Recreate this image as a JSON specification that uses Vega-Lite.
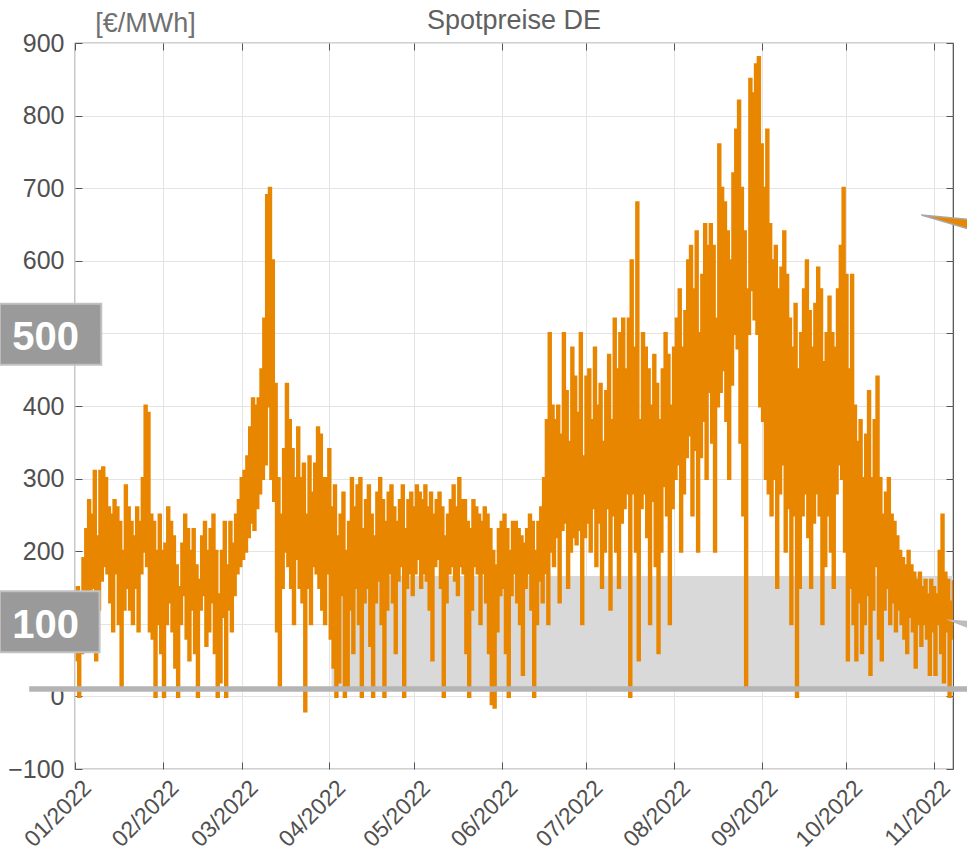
{
"$schema": "https://vega.github.io/schema/vega-lite/v6.json",
"width": 878, "height": 726,
"autosize": {"type": "none"},
"padding": {"left": 75, "top": 43, "right": 14, "bottom": 93},
"background": "white",
"config": {"font": "Liberation Sans", "view": {"stroke": "#4a4a4a", "strokeWidth": 1.2}},
"title": {"text": "Spotpreise DE", "fontSize": 27, "fontWeight": "normal", "color": "#606060", "anchor": "middle", "offset": 9, "dy": 35, "font": "Liberation Sans"},
"datasets": {
"band": [{"x1": 90.8, "x2": 310.7, "y1": 10, "y2": 165.7}],
"hl": [{"x1": -16.2, "x2": 316, "y": 10.2}],
"arrO": [{"x": 299.5, "y": 663, "y2": 663}, {"x": 316, "y": 657, "y2": 644}],
"arrG": [{"x": 308.2, "y": 106, "y2": 106}, {"x": 316, "y": 104, "y2": 94}],
"boxes": [{"x1": -26.6, "x2": 9.3, "y1": 456.8, "y2": 540.8, "t": "500", "tx": -10.4, "ty": 477.6}, {"x1": -26.6, "x2": 8.7, "y1": 60.8, "y2": 144.8, "t": "100", "tx": -10.4, "ty": 80.7}],
"p": [
{"d":0.25,"v":50},{"d":0.75,"v":150},{"d":1.25,"v":0},{"d":1.75,"v":130},{"d":2.25,"v":60},{"d":2.75,"v":190},{"d":3.25,"v":100},{"d":3.75,"v":230},{"d":4.25,"v":130},{"d":4.75,"v":270},{"d":5.25,"v":110},{"d":5.75,"v":250},{"d":6.25,"v":150},{"d":6.75,"v":310},{"d":7.25,"v":50},{"d":7.75,"v":220},{"d":8.25,"v":120},{"d":8.75,"v":310},{"d":9.25,"v":160},{"d":9.75,"v":315},{"d":10.25,"v":180},{"d":10.75,"v":300},{"d":11.25,"v":170},{"d":11.75,"v":260},{"d":12.25,"v":130},{"d":12.75,"v":250},{"d":13.25,"v":90},{"d":13.75,"v":270},{"d":14.25,"v":170},{"d":14.75,"v":260},{"d":15.25,"v":100},{"d":15.75,"v":240},{"d":16.25,"v":10},{"d":16.75,"v":200},{"d":17.25,"v":120},{"d":17.75,"v":290},{"d":18.25,"v":150},{"d":18.75,"v":260},{"d":19.25,"v":120},{"d":19.75,"v":240},{"d":20.25,"v":100},{"d":20.75,"v":220},{"d":21.25,"v":150},{"d":21.75,"v":260},{"d":22.25,"v":90},{"d":22.75,"v":240},{"d":23.25,"v":170},{"d":23.75,"v":300},{"d":24.25,"v":200},{"d":24.75,"v":400},{"d":25.25,"v":180},{"d":25.75,"v":390},{"d":26.25,"v":90},{"d":26.75,"v":250},{"d":27.25,"v":80},{"d":27.75,"v":240},{"d":28.25,"v":0},{"d":28.75,"v":200},{"d":29.25,"v":100},{"d":29.75,"v":250},{"d":30.25,"v":60},{"d":30.75,"v":200},
{"d":31.25,"v":0},{"d":31.75,"v":210},{"d":32.25,"v":100},{"d":32.75,"v":260},{"d":33.25,"v":130},{"d":33.75,"v":240},{"d":34.25,"v":90},{"d":34.75,"v":220},{"d":35.25,"v":40},{"d":35.75,"v":180},{"d":36.25,"v":0},{"d":36.75,"v":150},{"d":37.25,"v":100},{"d":37.75,"v":210},{"d":38.25,"v":140},{"d":38.75,"v":250},{"d":39.25,"v":80},{"d":39.75,"v":230},{"d":40.25,"v":50},{"d":40.75,"v":200},{"d":41.25,"v":120},{"d":41.75,"v":230},{"d":42.25,"v":60},{"d":42.75,"v":180},{"d":43.25,"v":0},{"d":43.75,"v":160},{"d":44.25,"v":120},{"d":44.75,"v":220},{"d":45.25,"v":140},{"d":45.75,"v":240},{"d":46.25,"v":70},{"d":46.75,"v":200},{"d":47.25,"v":90},{"d":47.75,"v":230},{"d":48.25,"v":130},{"d":48.75,"v":250},{"d":49.25,"v":60},{"d":49.75,"v":200},{"d":50.25,"v":0},{"d":50.75,"v":140},{"d":51.25,"v":20},{"d":51.75,"v":200},{"d":52.25,"v":110},{"d":52.75,"v":240},{"d":53.25,"v":0},{"d":53.75,"v":180},{"d":54.25,"v":120},{"d":54.75,"v":240},{"d":55.25,"v":90},{"d":55.75,"v":210},{"d":56.25,"v":140},{"d":56.75,"v":250},{"d":57.25,"v":170},{"d":57.75,"v":270},{"d":58.25,"v":180},{"d":58.75,"v":300},
{"d":59.25,"v":190},{"d":59.75,"v":310},{"d":60.25,"v":200},{"d":60.75,"v":330},{"d":61.25,"v":220},{"d":61.75,"v":370},{"d":62.25,"v":240},{"d":62.75,"v":410},{"d":63.25,"v":230},{"d":63.75,"v":400},{"d":64.25,"v":260},{"d":64.75,"v":410},{"d":65.25,"v":280},{"d":65.75,"v":450},{"d":66.25,"v":300},{"d":66.75,"v":520},{"d":67.25,"v":320},{"d":67.75,"v":690},{"d":68.25,"v":400},{"d":68.75,"v":700},{"d":69.25,"v":300},{"d":69.75,"v":600},{"d":70.25,"v":270},{"d":70.75,"v":430},{"d":71.25,"v":90},{"d":71.75,"v":300},{"d":72.25,"v":10},{"d":72.75,"v":250},{"d":73.25,"v":150},{"d":73.75,"v":340},{"d":74.25,"v":200},{"d":74.75,"v":430},{"d":75.25,"v":180},{"d":75.75,"v":380},{"d":76.25,"v":150},{"d":76.75,"v":340},{"d":77.25,"v":100},{"d":77.75,"v":300},{"d":78.25,"v":190},{"d":78.75,"v":370},{"d":79.25,"v":150},{"d":79.75,"v":300},{"d":80.25,"v":130},{"d":80.75,"v":320},{"d":81.25,"v":-20},{"d":81.75,"v":250},{"d":82.25,"v":150},{"d":82.75,"v":330},{"d":83.25,"v":100},{"d":83.75,"v":280},{"d":84.25,"v":180},{"d":84.75,"v":320},{"d":85.25,"v":170},{"d":85.75,"v":370},{"d":86.25,"v":150},{"d":86.75,"v":360},{"d":87.25,"v":120},{"d":87.75,"v":300},{"d":88.25,"v":100},{"d":88.75,"v":300},{"d":89.25,"v":170},{"d":89.75,"v":340},
{"d":90.25,"v":80},{"d":90.75,"v":260},{"d":91.25,"v":40},{"d":91.75,"v":290},{"d":92.25,"v":0},{"d":92.75,"v":220},{"d":93.25,"v":20},{"d":93.75,"v":250},{"d":94.25,"v":140},{"d":94.75,"v":280},{"d":95.25,"v":0},{"d":95.75,"v":200},{"d":96.25,"v":10},{"d":96.75,"v":240},{"d":97.25,"v":120},{"d":97.75,"v":300},{"d":98.25,"v":60},{"d":98.75,"v":260},{"d":99.25,"v":150},{"d":99.75,"v":290},{"d":100.25,"v":100},{"d":100.75,"v":300},{"d":101.25,"v":0},{"d":101.75,"v":230},{"d":102.25,"v":130},{"d":102.75,"v":270},{"d":103.25,"v":150},{"d":103.75,"v":290},{"d":104.25,"v":70},{"d":104.75,"v":250},{"d":105.25,"v":0},{"d":105.75,"v":220},{"d":106.25,"v":130},{"d":106.75,"v":280},{"d":107.25,"v":160},{"d":107.75,"v":300},{"d":108.25,"v":100},{"d":108.75,"v":270},{"d":109.25,"v":0},{"d":109.75,"v":240},{"d":110.25,"v":120},{"d":110.75,"v":280},{"d":111.25,"v":170},{"d":111.75,"v":290},{"d":112.25,"v":130},{"d":112.75,"v":260},{"d":113.25,"v":60},{"d":113.75,"v":240},{"d":114.25,"v":160},{"d":114.75,"v":270},{"d":115.25,"v":180},{"d":115.75,"v":290},{"d":116.25,"v":0},{"d":116.75,"v":230},{"d":117.25,"v":150},{"d":117.75,"v":270},{"d":118.25,"v":170},{"d":118.75,"v":280},{"d":119.25,"v":140},{"d":119.75,"v":260},
{"d":120.25,"v":170},{"d":120.75,"v":290},{"d":121.25,"v":190},{"d":121.75,"v":280},{"d":122.25,"v":150},{"d":122.75,"v":270},{"d":123.25,"v":170},{"d":123.75,"v":290},{"d":124.25,"v":160},{"d":124.75,"v":260},{"d":125.25,"v":120},{"d":125.75,"v":280},{"d":126.25,"v":50},{"d":126.75,"v":250},{"d":127.25,"v":180},{"d":127.75,"v":270},{"d":128.25,"v":190},{"d":128.75,"v":280},{"d":129.25,"v":150},{"d":129.75,"v":260},{"d":130.25,"v":0},{"d":130.75,"v":220},{"d":131.25,"v":130},{"d":131.75,"v":250},{"d":132.25,"v":170},{"d":132.75,"v":270},{"d":133.25,"v":180},{"d":133.75,"v":290},{"d":134.25,"v":160},{"d":134.75,"v":260},{"d":135.25,"v":140},{"d":135.75,"v":300},{"d":136.25,"v":180},{"d":136.75,"v":270},{"d":137.25,"v":170},{"d":137.75,"v":270},{"d":138.25,"v":60},{"d":138.75,"v":240},{"d":139.25,"v":0},{"d":139.75,"v":230},{"d":140.25,"v":120},{"d":140.75,"v":270},{"d":141.25,"v":180},{"d":141.75,"v":260},{"d":142.25,"v":170},{"d":142.75,"v":250},{"d":143.25,"v":100},{"d":143.75,"v":240},{"d":144.25,"v":170},{"d":144.75,"v":260},{"d":145.25,"v":130},{"d":145.75,"v":250},{"d":146.25,"v":60},{"d":146.75,"v":230},{"d":147.25,"v":-10},{"d":147.75,"v":200},{"d":148.25,"v":-15},{"d":148.75,"v":180},{"d":149.25,"v":90},{"d":149.75,"v":230},{"d":150.25,"v":140},{"d":150.75,"v":240},
{"d":151.25,"v":150},{"d":151.75,"v":250},{"d":152.25,"v":60},{"d":152.75,"v":230},{"d":153.25,"v":0},{"d":153.75,"v":200},{"d":154.25,"v":140},{"d":154.75,"v":240},{"d":155.25,"v":170},{"d":155.75,"v":240},{"d":156.25,"v":130},{"d":156.75,"v":230},{"d":157.25,"v":100},{"d":157.75,"v":220},{"d":158.25,"v":30},{"d":158.75,"v":210},{"d":159.25,"v":150},{"d":159.75,"v":230},{"d":160.25,"v":170},{"d":160.75,"v":250},{"d":161.25,"v":120},{"d":161.75,"v":240},{"d":162.25,"v":0},{"d":162.75,"v":200},{"d":163.25,"v":100},{"d":163.75,"v":240},{"d":164.25,"v":160},{"d":164.75,"v":260},{"d":165.25,"v":130},{"d":165.75,"v":300},{"d":166.25,"v":170},{"d":166.75,"v":380},{"d":167.25,"v":100},{"d":167.75,"v":500},{"d":168.25,"v":200},{"d":168.75,"v":400},{"d":169.25,"v":180},{"d":169.75,"v":380},{"d":170.25,"v":220},{"d":170.75,"v":400},{"d":171.25,"v":130},{"d":171.75,"v":360},{"d":172.25,"v":230},{"d":172.75,"v":500},{"d":173.25,"v":240},{"d":173.75,"v":420},{"d":174.25,"v":150},{"d":174.75,"v":350},{"d":175.25,"v":200},{"d":175.75,"v":480},{"d":176.25,"v":220},{"d":176.75,"v":440},{"d":177.25,"v":210},{"d":177.75,"v":390},{"d":178.25,"v":230},{"d":178.75,"v":500},{"d":179.25,"v":100},{"d":179.75,"v":330},{"d":180.25,"v":220},{"d":180.75,"v":440},
{"d":181.25,"v":240},{"d":181.75,"v":450},{"d":182.25,"v":200},{"d":182.75,"v":380},{"d":183.25,"v":260},{"d":183.75,"v":480},{"d":184.25,"v":180},{"d":184.75,"v":400},{"d":185.25,"v":240},{"d":185.75,"v":430},{"d":186.25,"v":150},{"d":186.75,"v":350},{"d":187.25,"v":200},{"d":187.75,"v":420},{"d":188.25,"v":260},{"d":188.75,"v":470},{"d":189.25,"v":120},{"d":189.75,"v":380},{"d":190.25,"v":250},{"d":190.75,"v":520},{"d":191.25,"v":200},{"d":191.75,"v":450},{"d":192.25,"v":150},{"d":192.75,"v":500},{"d":193.25,"v":240},{"d":193.75,"v":520},{"d":194.25,"v":260},{"d":194.75,"v":450},{"d":195.25,"v":280},{"d":195.75,"v":520},{"d":196.25,"v":0},{"d":196.75,"v":600},{"d":197.25,"v":280},{"d":197.75,"v":480},{"d":198.25,"v":200},{"d":198.75,"v":680},{"d":199.25,"v":50},{"d":199.75,"v":380},{"d":200.25,"v":260},{"d":200.75,"v":500},{"d":201.25,"v":280},{"d":201.75,"v":480},{"d":202.25,"v":220},{"d":202.75,"v":450},{"d":203.25,"v":100},{"d":203.75,"v":400},{"d":204.25,"v":270},{"d":204.75,"v":470},{"d":205.25,"v":180},{"d":205.75,"v":430},{"d":206.25,"v":60},{"d":206.75,"v":380},{"d":207.25,"v":200},{"d":207.75,"v":450},{"d":208.25,"v":290},{"d":208.75,"v":500},{"d":209.25,"v":250},{"d":209.75,"v":470},{"d":210.25,"v":100},{"d":210.75,"v":400},{"d":211.25,"v":260},{"d":211.75,"v":480},
{"d":212.25,"v":300},{"d":212.75,"v":520},{"d":213.25,"v":320},{"d":213.75,"v":560},{"d":214.25,"v":200},{"d":214.75,"v":480},{"d":215.25,"v":280},{"d":215.75,"v":530},{"d":216.25,"v":330},{"d":216.75,"v":600},{"d":217.25,"v":360},{"d":217.75,"v":620},{"d":218.25,"v":250},{"d":218.75,"v":560},{"d":219.25,"v":340},{"d":219.75,"v":640},{"d":220.25,"v":200},{"d":220.75,"v":500},{"d":221.25,"v":330},{"d":221.75,"v":580},{"d":222.25,"v":380},{"d":222.75,"v":650},{"d":223.25,"v":300},{"d":223.75,"v":620},{"d":224.25,"v":420},{"d":224.75,"v":650},{"d":225.25,"v":350},{"d":225.75,"v":620},{"d":226.25,"v":200},{"d":226.75,"v":520},{"d":227.25,"v":400},{"d":227.75,"v":760},{"d":228.25,"v":420},{"d":228.75,"v":700},{"d":229.25,"v":450},{"d":229.75,"v":680},{"d":230.25,"v":380},{"d":230.75,"v":640},{"d":231.25,"v":300},{"d":231.75,"v":600},{"d":232.25,"v":430},{"d":232.75,"v":720},{"d":233.25,"v":500},{"d":233.75,"v":780},{"d":234.25,"v":480},{"d":234.75,"v":820},{"d":235.25,"v":350},{"d":235.75,"v":700},{"d":236.25,"v":250},{"d":236.75,"v":640},{"d":237.25,"v":10},{"d":237.75,"v":560},{"d":238.25,"v":500},{"d":238.75,"v":850},{"d":239.25,"v":560},{"d":239.75,"v":830},{"d":240.25,"v":520},{"d":240.75,"v":870},{"d":241.25,"v":500},{"d":241.75,"v":880},{"d":242.25,"v":400},{"d":242.75,"v":760},
{"d":243.25,"v":380},{"d":243.75,"v":700},{"d":244.25,"v":300},{"d":244.75,"v":780},{"d":245.25,"v":280},{"d":245.75,"v":650},{"d":246.25,"v":250},{"d":246.75,"v":600},{"d":247.25,"v":300},{"d":247.75,"v":620},{"d":248.25,"v":150},{"d":248.75,"v":560},{"d":249.25,"v":280},{"d":249.75,"v":590},{"d":250.25,"v":320},{"d":250.75,"v":640},{"d":251.25,"v":200},{"d":251.75,"v":580},{"d":252.25,"v":260},{"d":252.75,"v":520},{"d":253.25,"v":100},{"d":253.75,"v":480},{"d":254.25,"v":250},{"d":254.75,"v":540},{"d":255.25,"v":0},{"d":255.75,"v":450},{"d":256.25,"v":150},{"d":256.75,"v":500},{"d":257.25,"v":250},{"d":257.75,"v":560},{"d":258.25,"v":280},{"d":258.75,"v":600},{"d":259.25,"v":220},{"d":259.75,"v":530},{"d":260.25,"v":150},{"d":260.75,"v":480},{"d":261.25,"v":240},{"d":261.75,"v":540},{"d":262.25,"v":280},{"d":262.75,"v":590},{"d":263.25,"v":250},{"d":263.75,"v":560},{"d":264.25,"v":100},{"d":264.75,"v":460},{"d":265.25,"v":180},{"d":265.75,"v":500},{"d":266.25,"v":250},{"d":266.75,"v":550},{"d":267.25,"v":200},{"d":267.75,"v":500},{"d":268.25,"v":150},{"d":268.75,"v":480},{"d":269.25,"v":280},{"d":269.75,"v":560},{"d":270.25,"v":320},{"d":270.75,"v":620},{"d":271.25,"v":300},{"d":271.75,"v":700},{"d":272.25,"v":200},{"d":272.75,"v":580},
{"d":273.25,"v":50},{"d":273.75,"v":450},{"d":274.25,"v":150},{"d":274.75,"v":580},{"d":275.25,"v":100},{"d":275.75,"v":400},{"d":276.25,"v":50},{"d":276.75,"v":350},{"d":277.25,"v":130},{"d":277.75,"v":380},{"d":278.25,"v":60},{"d":278.75,"v":300},{"d":279.25,"v":100},{"d":279.75,"v":360},{"d":280.25,"v":140},{"d":280.75,"v":420},{"d":281.25,"v":30},{"d":281.75,"v":300},{"d":282.25,"v":120},{"d":282.75,"v":380},{"d":283.25,"v":180},{"d":283.75,"v":440},{"d":284.25,"v":80},{"d":284.75,"v":300},{"d":285.25,"v":50},{"d":285.75,"v":250},{"d":286.25,"v":120},{"d":286.75,"v":280},{"d":287.25,"v":150},{"d":287.75,"v":300},{"d":288.25,"v":100},{"d":288.75,"v":250},{"d":289.25,"v":130},{"d":289.75,"v":240},{"d":290.25,"v":90},{"d":290.75,"v":220},{"d":291.25,"v":120},{"d":291.75,"v":200},{"d":292.25,"v":100},{"d":292.75,"v":190},{"d":293.25,"v":80},{"d":293.75,"v":180},{"d":294.25,"v":60},{"d":294.75,"v":200},{"d":295.25,"v":110},{"d":295.75,"v":180},{"d":296.25,"v":90},{"d":296.75,"v":170},{"d":297.25,"v":40},{"d":297.75,"v":160},{"d":298.25,"v":100},{"d":298.75,"v":170},{"d":299.25,"v":70},{"d":299.75,"v":150},{"d":300.25,"v":100},{"d":300.75,"v":160},{"d":301.25,"v":80},{"d":301.75,"v":140},{"d":302.25,"v":30},{"d":302.75,"v":160},{"d":303.25,"v":90},{"d":303.75,"v":150},
{"d":304.25,"v":30},{"d":304.75,"v":140},{"d":305.25,"v":100},{"d":305.75,"v":200},{"d":306.25,"v":60},{"d":306.75,"v":250},{"d":307.25,"v":20},{"d":307.75,"v":170},{"d":308.25,"v":90},{"d":308.75,"v":160},{"d":309.25,"v":0},{"d":309.75,"v":130},{"d":310.25,"v":80},{"d":310.75,"v":160}
]
},
"layer": [
{"data": {"name": "band"}, "mark": {"type": "rect", "color": "#d9d9d9", "clip": true},
 "encoding": {
  "x": {"field": "x1", "type": "quantitative", "scale": {"domain": [0, 310.7], "nice": false, "zero": false},
   "axis": {"values": [0, 31, 59, 90, 120, 151, 181, 212, 243, 273, 304], "labelExpr": "timeFormat(datetime(2022, 0, 1 + datum.value), '%m/%Y')", "labelOverlap": false, "labelBound": false, "labelFlush": false, "labelAngle": -45, "labelAlign": "right", "labelBaseline": "middle", "labelFontSize": 23, "labelColor": "#505050", "labelPadding": 22, "labelOffset": 12, "tickSize": -7, "tickColor": "#555555", "domain": false, "grid": true, "gridColor": "#e4e4e4", "title": null}},
  "x2": {"field": "x2"},
  "y": {"field": "y1", "type": "quantitative", "scale": {"domain": [-100, 900], "nice": false, "zero": false},
   "axis": {"values": [-100, 0, 100, 200, 300, 400, 500, 600, 700, 800, 900], "labelExpr": "datum.value == 500 || datum.value == 100 ? '' : datum.label", "labelOverlap": false, "labelFontSize": 25, "labelColor": "#505050", "labelPadding": 18, "tickSize": -7, "tickColor": "#555555", "domain": false, "grid": true, "gridColor": "#e4e4e4", "title": "[€/MWh]", "titleAngle": 0, "titleFontSize": 27, "titleFontWeight": "normal", "titleColor": "#707070", "titleAlign": "center", "titleBaseline": "alphabetic", "titleX": 70, "titleY": -12}},
  "y2": {"field": "y2"}}},
{"data": {"name": "p"}, "mark": {"type": "line", "color": "#e98600", "strokeWidth": 3, "interpolate": "step-after", "clip": true},
 "encoding": {
  "x": {"field": "d", "type": "quantitative", "axis": {"orient": "top", "values": [0, 31, 59, 90, 120, 151, 181, 212, 243, 273, 304], "labels": false, "tickSize": -7, "tickColor": "#555555", "domain": false, "grid": false, "title": null}},
  "y": {"field": "v", "type": "quantitative", "axis": {"orient": "right", "values": [-100, 0, 100, 200, 300, 400, 500, 600, 700, 800, 900], "labels": false, "tickSize": -7, "tickColor": "#555555", "domain": false, "grid": false, "title": null}}}},
{"data": {"name": "hl"}, "mark": {"type": "rule", "color": "#b4b4b4", "strokeWidth": 5.5, "clip": false},
 "encoding": {"x": {"field": "x1", "type": "quantitative", "axis": null}, "x2": {"field": "x2"}, "y": {"field": "y", "type": "quantitative", "axis": null}}},
{"data": {"name": "arrO"}, "mark": {"type": "area", "color": "#e98600", "stroke": "#a8a8a8", "strokeWidth": 1.5, "clip": false},
 "encoding": {"x": {"field": "x", "type": "quantitative", "axis": null}, "y": {"field": "y", "type": "quantitative", "axis": null}, "y2": {"field": "y2"}}},
{"data": {"name": "arrG"}, "mark": {"type": "area", "color": "#bdbdbd", "clip": false},
 "encoding": {"x": {"field": "x", "type": "quantitative", "axis": null}, "y": {"field": "y", "type": "quantitative", "axis": null}, "y2": {"field": "y2"}}},
{"data": {"name": "boxes"}, "mark": {"type": "rect", "fill": "#999a99", "stroke": "#c2c2c2", "strokeWidth": 2, "clip": false},
 "encoding": {"x": {"field": "x1", "type": "quantitative", "axis": null}, "x2": {"field": "x2"}, "y": {"field": "y1", "type": "quantitative", "axis": null}, "y2": {"field": "y2"}}},
{"data": {"name": "boxes"}, "mark": {"type": "text", "color": "white", "fontSize": 40, "fontWeight": "bold", "font": "Liberation Sans", "align": "center", "baseline": "alphabetic", "clip": false},
 "encoding": {"x": {"field": "tx", "type": "quantitative", "axis": null}, "y": {"field": "ty", "type": "quantitative", "axis": null}, "text": {"field": "t"}}}
],
"resolve": {"axis": {"x": "independent", "y": "independent"}}
}
